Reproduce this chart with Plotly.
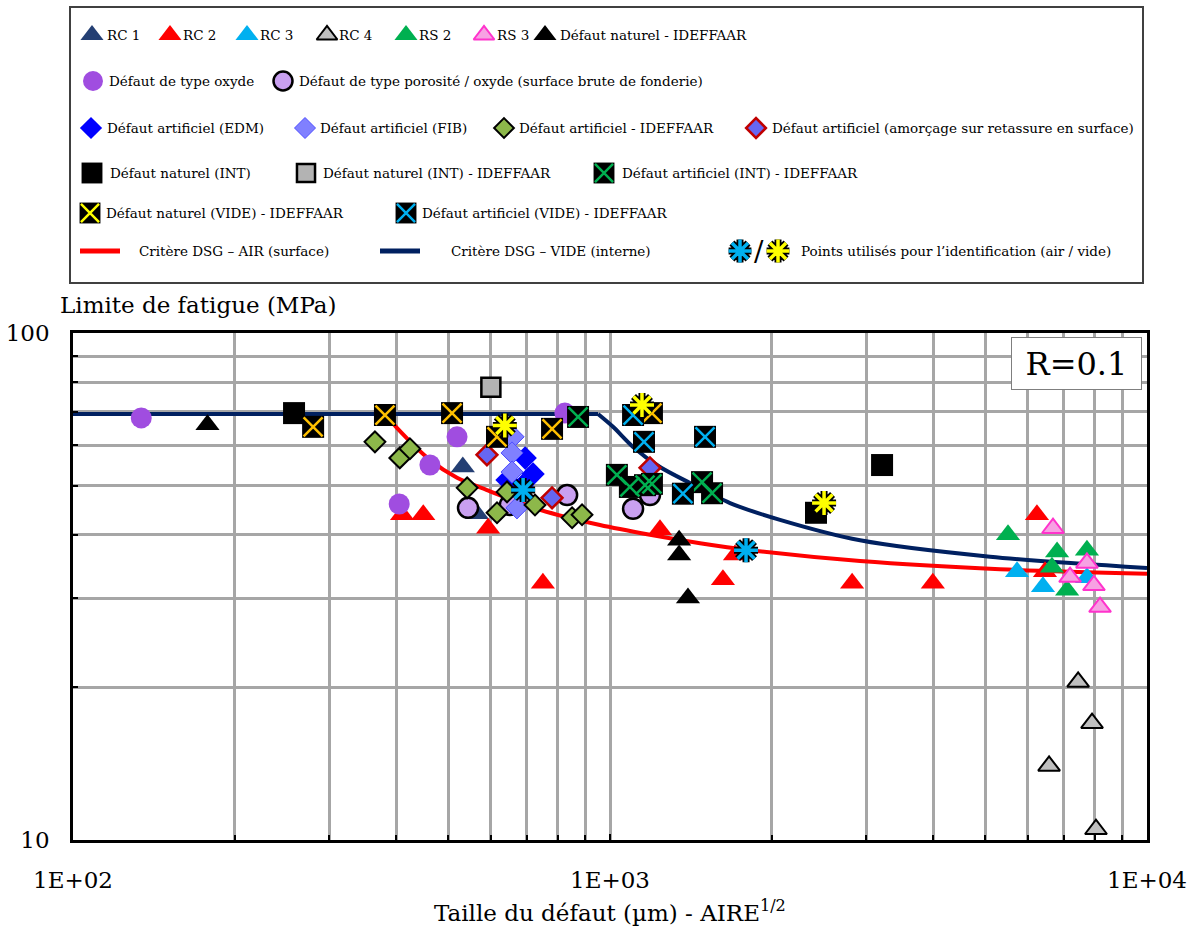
import plotly.graph_objects as go

SERIF = "DejaVu Serif"
W, H = 1201, 932

# ---------------- data ----------------
rc1_x = [532, 565]
rc1_y = [54.4, 44.0]
rc2_x = [410, 449, 593, 750, 1239, 1623, 1709, 2824, 3992, 6238, 6457]
rc2_y = [43.8, 43.8, 41.2, 32.1, 40.9, 32.6, 36.5, 32.1, 32.1, 43.8, 33.8]
rc3_x = [5728, 6401, 7730]
rc3_y = [33.8, 31.6, 32.9]
rc4_x = [7443, 7900, 6571, 8035]
rc4_y = [20.5, 17.0, 14.0, 10.5]
rs2_x = [5510, 6800, 6653, 7100, 7730]
rs2_y = [40.0, 37.0, 34.5, 31.1, 37.3]
rs3_x = [6683, 7730, 7190, 7965, 8176]
rs3_y = [41.2, 35.2, 33.0, 31.8, 28.8]
nat_ideff_x = [178, 1345, 1345, 1397]
nat_ideff_y = [65.9, 39.0, 36.5, 30.0]
oxyde_x = [134, 519, 462, 405, 824]
oxyde_y = [68.0, 62.4, 54.9, 46.0, 69.5]
poro_x = [544, 651, 832, 1104, 1187]
poro_y = [45.2, 45.8, 47.9, 45.0, 47.9]
edm_x = [695, 719, 643, 686]
edm_y = [56.7, 52.7, 51.3, 49.9]
fib_x = [660, 657, 657, 671]
fib_y = [62.4, 58.0, 53.2, 45.2]
retass_x = [590, 780, 1187]
retass_y = [57.5, 47.3, 54.2]
art_ideff_x = [365, 406, 424, 542, 616, 643, 725, 850, 887]
art_ideff_y = [61.0, 56.7, 59.1, 49.5, 44.2, 48.6, 45.8, 43.2, 43.8]
int_x = [258, 3211, 2419]
int_y = [69.5, 54.9, 44.2]
int_ideff_x = [600]
int_ideff_y = [78.2]
int_art_x = [872, 1030, 1089, 1162, 1197, 1484, 1549]
int_art_y = [68.3, 52.5, 49.7, 50.1, 50.4, 50.8, 48.3]
vide_nat_x = [280, 381, 508, 616, 780, 1197]
vide_nat_y = [65.3, 68.9, 69.5, 62.4, 64.7, 69.5]
vide_art_x = [1104, 1157, 1503, 1367]
vide_art_y = [68.9, 61.0, 62.4, 48.2]
id_air_x = [689, 1792]
id_air_y = [49.0, 37.3]
id_vide_x = [637, 1147, 2504]
id_vide_y = [65.7, 72.1, 46.2]

# DSG criteria curves
plateau_y = 69.2
air_flat_x = [100, 381]
air_x = [381, 401, 462, 519, 590, 741, 958, 1187, 1471, 1822, 2922, 5325, 10000]
air_y = [69.2, 65.0, 56.2, 51.8, 49.0, 44.8, 41.8, 40.0, 38.5, 37.3, 35.5, 34.2, 33.5]
vide_flat_x = [100, 950]
vide_x = [950, 1013, 1104, 1239, 1409, 1673, 2073, 2922, 5102, 10000]
vide_y = [69.2, 65.3, 59.6, 54.4, 50.6, 46.2, 42.8, 39.0, 36.2, 34.4]

x_ticks = [100, 1000, 10000]
x_ticktext = ["1E+02", "1E+03", "1E+04"]
x_minor = [200, 300, 400, 500, 600, 700, 800, 900, 2000, 3000, 4000, 5000, 6000, 7000, 8000, 9000]
y_ticks = [10, 100]
y_ticktext = ["10", "100"]
y_minor = [20, 30, 40, 50, 60, 70, 80, 90]

# ---------------- styles ----------------
def sq_x(col):
    return [("square", 22, "#000000", "#000000", 0), ("x-thin-open", 19, col, col, 2.5)]

def aster(col):
    return [("asterisk-open", 20, "#000000", "#000000", 7), ("asterisk-open", 20, col, col, 3.5)]

STY = {
    "RC1": [("triangle-up", 21, "#243F73", "#243F73", 0)],
    "RC2": [("triangle-up", 21, "#FF0000", "#FF0000", 0)],
    "RC3": [("triangle-up", 21, "#00B0F0", "#00B0F0", 0)],
    "RC4": [("triangle-up", 19, "#BFBFBF", "#000000", 2)],
    "RS2": [("triangle-up", 21, "#00B050", "#00B050", 0)],
    "RS3": [("triangle-up", 19, "#F7A1E3", "#FF33CC", 2)],
    "NAT": [("triangle-up", 21, "#000000", "#000000", 0)],
    "OXY": [("circle", 21, "#A04DE0", "#A04DE0", 0)],
    "PORO": [("circle", 20, "#C9A0F0", "#000000", 2.5)],
    "EDM": [("diamond", 18, "#0000FF", "#0000FF", 0)],
    "FIB": [("diamond", 17, "#8080FF", "#4D4DFF", 1)],
    "OLIVE": [("diamond", 16, "#8DB84A", "#000000", 2)],
    "RETASS": [("diamond", 16, "#6666F2", "#C00000", 2.5)],
    "INT": [("square", 22, "#000000", "#000000", 0)],
    "INTH": [("square", 19, "#B3B3B3", "#000000", 2.5)],
    "INTART": sq_x("#00B050"),
    "VNAT": sq_x("#FFC000"),
    "VNAT_LEG": sq_x("#FFFF00"),
    "VART": sq_x("#00B0F0"),
    "IDAIR": aster("#00B0F0"),
    "IDVIDE": aster("#FFFF00"),
}

fig = go.Figure()


def add_pts(xs, ys, key, xa="x", ya="y", scale=1.0):
    for sym, size, col, lcol, lw in STY[key]:
        fig.add_trace(go.Scatter(
            x=xs, y=ys, mode="markers", xaxis=xa, yaxis=ya, showlegend=False,
            hoverinfo="skip", cliponaxis=False,
            marker=dict(symbol=sym, size=size * scale, color=col,
                        line=dict(color=lcol, width=lw)),
        ))


# curves: flat plateau (straight) + smooth decreasing part
fig.add_trace(go.Scatter(x=air_flat_x, y=[plateau_y] * len(air_flat_x), mode="lines",
                         showlegend=False, hoverinfo="skip",
                         line=dict(color="#FF0000", width=4)))
fig.add_trace(go.Scatter(x=air_x, y=air_y, mode="lines", showlegend=False, hoverinfo="skip",
                         line=dict(color="#FF0000", width=4, shape="spline", smoothing=0.8)))
fig.add_trace(go.Scatter(x=vide_flat_x, y=[plateau_y] * len(vide_flat_x), mode="lines",
                         showlegend=False, hoverinfo="skip",
                         line=dict(color="#002060", width=4)))
fig.add_trace(go.Scatter(x=vide_x, y=vide_y, mode="lines", showlegend=False, hoverinfo="skip",
                         line=dict(color="#002060", width=4, shape="spline", smoothing=0.8)))

# points (drawing order roughly as in the reference)
add_pts(rc1_x, rc1_y, "RC1")
add_pts(rc2_x, rc2_y, "RC2")
add_pts(rc3_x, rc3_y, "RC3")
add_pts(rc4_x, rc4_y, "RC4")
add_pts(rs2_x, rs2_y, "RS2")
add_pts(rs3_x, rs3_y, "RS3")
add_pts(nat_ideff_x, nat_ideff_y, "NAT")
add_pts(oxyde_x, oxyde_y, "OXY")
add_pts(poro_x, poro_y, "PORO")
add_pts(edm_x, edm_y, "EDM")
add_pts(fib_x, fib_y, "FIB")
add_pts(retass_x, retass_y, "RETASS")
add_pts(art_ideff_x, art_ideff_y, "OLIVE")
add_pts(int_x, int_y, "INT")
add_pts(int_ideff_x, int_ideff_y, "INTH")
add_pts(int_art_x, int_art_y, "INTART")
add_pts(vide_nat_x, vide_nat_y, "VNAT")
add_pts(vide_art_x, vide_art_y, "VART")
add_pts(id_air_x, id_air_y, "IDAIR")
add_pts(id_vide_x, id_vide_y, "IDVIDE")

# ---------------- legend box (pixel-space overlay axes) ----------------
ROWS = [35, 81, 128, 173, 213, 251]
LEG_FONT = 13.5
leg_items = [
    ("RC1", 92, 0, 105, "RC 1"),
    ("RC2", 170, 0, 181, "RC 2"),
    ("RC3", 247, 0, 258, "RC 3"),
    ("RC4", 327, 0, 337, "RC 4"),
    ("RS2", 406, 0, 417, "RS 2"),
    ("RS3", 484, 0, 495, "RS 3"),
    ("NAT", 545, 0, 558, "Défaut naturel - IDEFFAAR"),
    ("OXY", 93, 1, 107, "Défaut de type oxyde"),
    ("PORO", 283, 1, 297, "Défaut de type porosité / oxyde (surface brute de fonderie)"),
    ("EDM", 91, 2, 105, "Défaut artificiel (EDM)"),
    ("FIB", 305, 2, 318, "Défaut artificiel (FIB)"),
    ("OLIVE", 504, 2, 517, "Défaut artificiel - IDEFFAAR"),
    ("RETASS", 756, 2, 770, "Défaut artificiel (amorçage sur retassure en surface)"),
    ("INT", 92, 3, 108, "Défaut naturel (INT)"),
    ("INTH", 306, 3, 321, "Défaut naturel (INT) - IDEFFAAR"),
    ("INTART", 604, 3, 620, "Défaut artificiel (INT) - IDEFFAAR"),
    ("VNAT_LEG", 90, 4, 104, "Défaut naturel (VIDE) - IDEFFAAR"),
    ("VART", 406, 4, 420, "Défaut artificiel (VIDE) - IDEFFAAR"),
    ("IDAIR", 740, 5, 799, "Points utilisés pour l’identification (air / vide)"),
    ("IDVIDE", 778, 5, None, None),
]
leg_lines = [
    ("#FF0000", 80, 120, 137, "Critère DSG – AIR (surface)"),
    ("#002060", 380, 420, 449, "Critère DSG – VIDE (interne)"),
]

annotations = []
for key, mx, r, tx, txt in leg_items:
    add_pts([mx], [ROWS[r]], key, xa="x2", ya="y2", scale=0.95)
    if txt:
        annotations.append(dict(x=tx, y=ROWS[r], xref="x2", yref="y2", text=txt,
                                showarrow=False, xanchor="left", yanchor="middle",
                                font=dict(family=SERIF, size=LEG_FONT, color="black")))
for col, x0, x1, tx, txt in leg_lines:
    fig.add_trace(go.Scatter(x=[x0, x1], y=[ROWS[5], ROWS[5]], mode="lines", xaxis="x2", yaxis="y2",
                             showlegend=False, hoverinfo="skip", line=dict(color=col, width=5)))
    annotations.append(dict(x=tx, y=ROWS[5], xref="x2", yref="y2", text=txt, showarrow=False,
                            xanchor="left", yanchor="middle",
                            font=dict(family=SERIF, size=LEG_FONT, color="black")))
annotations.append(dict(x=759, y=ROWS[5], xref="x2", yref="y2", text="/", showarrow=False,
                        xanchor="center", yanchor="middle",
                        font=dict(family=SERIF, size=28, color="black")))

# axis titles and R box
L, R_, T, B = 73, 1147, 333, 840
annotations.append(dict(x=58 / W, y=1 - 305 / H, xref="paper", yref="paper",
                        text="Limite de fatigue (MPa)", showarrow=False,
                        xanchor="left", yanchor="middle",
                        font=dict(family=SERIF, size=23, color="black")))
annotations.append(dict(x=610 / W, y=1 - 911 / H, xref="paper", yref="paper",
                        text="Taille du défaut (µm) - AIRE<sup>1/2</sup>", showarrow=False,
                        xanchor="center", yanchor="middle",
                        font=dict(family=SERIF, size=23, color="black")))
annotations.append(dict(x=1142 / W, y=1 - 337 / H, xref="paper", yref="paper",
                        text="R=0.1", showarrow=False, xanchor="right", yanchor="top",
                        width=125, height=47, borderpad=2, bordercolor="#7F7F7F", borderwidth=1,
                        bgcolor="white",
                        font=dict(family=SERIF, size=32, color="black")))

GRID = "#A6A6A6"
fig.update_layout(
    width=W, height=H,
    margin=dict(l=0, r=0, t=0, b=0),
    paper_bgcolor="white", plot_bgcolor="rgba(0,0,0,0)",
    showlegend=False,
    xaxis=dict(type="log", range=[2, 4], domain=[L / W, R_ / W], anchor="y",
               tickvals=x_ticks, ticktext=x_ticktext,
               showgrid=True, gridcolor=GRID, gridwidth=2.5,
               ticks="inside", ticklen=6, tickwidth=1.5, tickcolor="black",
               showline=True, linecolor="black", linewidth=2.5, mirror=True,
               zeroline=False, automargin=False, ticklabelstandoff=18,
               tickfont=dict(family=SERIF, size=23, color="black"),
               minor=dict(tickvals=x_minor, showgrid=True, gridcolor=GRID, gridwidth=2.5,
                          ticks="inside", ticklen=5, tickcolor="black", tickwidth=1.5)),
    yaxis=dict(type="log", range=[1, 2], domain=[1 - B / H, 1 - T / H], anchor="x",
               tickvals=y_ticks, ticktext=y_ticktext,
               showgrid=True, gridcolor=GRID, gridwidth=2.5,
               ticks="inside", ticklen=6, tickwidth=1.5, tickcolor="black",
               showline=True, linecolor="black", linewidth=2.5, mirror=True,
               zeroline=False, automargin=False, ticklabelstandoff=16,
               tickfont=dict(family=SERIF, size=23, color="black"),
               minor=dict(tickvals=y_minor, showgrid=True, gridcolor=GRID, gridwidth=2.5,
                          ticks="inside", ticklen=5, tickcolor="black", tickwidth=1.5)),
    xaxis2=dict(domain=[0, 1], range=[0, W], anchor="y2", visible=False, fixedrange=True),
    yaxis2=dict(domain=[0, 1], range=[H, 0], anchor="x2", visible=False, fixedrange=True),
    shapes=[dict(type="rect", xref="x2", yref="y2", x0=70, y0=7, x1=1143, y1=283,
                 line=dict(color="#404040", width=2), fillcolor="rgba(0,0,0,0)")],
    annotations=annotations,
)

fig.write_html("out.html", config={"displayModeBar": False},
               post_script="document.body.style.margin='0';document.body.style.overflow='hidden';")
